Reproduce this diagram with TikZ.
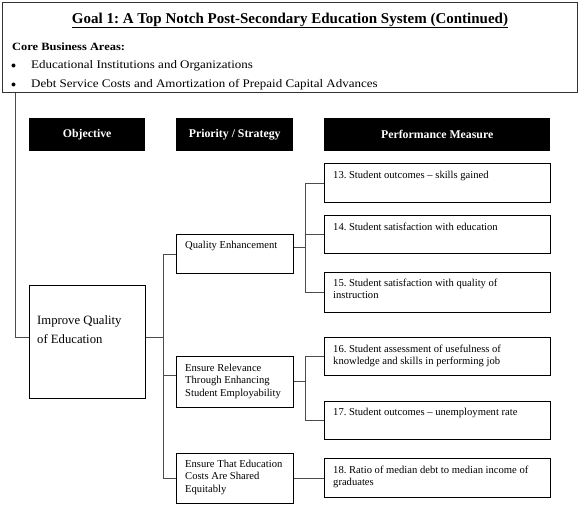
\documentclass[tikz,border=0pt]{standalone}
\usepackage{fontspec}
\setmainfont{Liberation Serif}
\newfontfamily\widefont[FakeStretch=1.12]{Liberation Serif}
\frenchspacing
\begin{document}
\begin{tikzpicture}[x=1pt,y=-1pt,
 box/.style={draw=black, line width=1.1pt, anchor=north west, inner sep=0pt},
 hdr/.style={fill=black, anchor=north west, inner sep=0pt},
 hdrtxt/.style={text=white, inner sep=0pt, font=\bfseries\fontsize{11.8}{13}\selectfont},
 txt/.style={anchor=north west, inner sep=0pt, align=left, font=\fontsize{10.6}{12.5}\selectfont},
 top/.style={inner sep=0pt, font=\widefont\fontsize{11.6}{13}\selectfont},
 conn/.style={draw=black!70, line width=1pt}]
\useasboundingbox (0,0) rectangle (580,509);
% top box
\node[box, draw=black!80, minimum width=575, minimum height=90] (goal) at (2,2) {};
\node[anchor=base, inner sep=0pt, font=\bfseries\fontsize{15}{17}\selectfont] (title) at (290,23) {\underline{Goal 1: A Top Notch Post-Secondary Education System (Continued)}};
\node[top, anchor=base west, font=\widefont\bfseries\fontsize{11.1}{13}\selectfont] (core) at (12,50) {Core Business Areas:};
\node[top, anchor=base, font=\fontsize{10}{12}\selectfont] (b1) at (13.5,68) {$\bullet$};
\node[top, anchor=base west] (a1) at (31,68) {Educational Institutions and Organizations};
\node[top, anchor=base, font=\fontsize{10}{12}\selectfont] (b2) at (13.5,87) {$\bullet$};
\node[top, anchor=base west] (a2) at (31,87) {Debt Service Costs and Amortization of Prepaid Capital Advances};
% headers
\node[hdr, minimum width=116, minimum height=33] (hobj) at (29,118) {};
\node[hdrtxt] (hobjt) at (hobj.center) {Objective};
\node[hdr, minimum width=117, minimum height=33] (hpri) at (176,118) {};
\node[hdrtxt] (hprit) at (hpri.center) {Priority / Strategy};
\node[hdr, minimum width=226, minimum height=33] (hperf) at (324,118) {};
\node[hdrtxt] (hperft) at (hperf.center) {Performance Measure};
% objective
\node[box, minimum width=116, minimum height=113] (imp) at (29,285) {};
\node[txt, font=\fontsize{12.7}{19}\selectfont] (impt) at ([shift={(8,30)}]imp.north west) {Improve Quality\\of Education};
% strategies
\node[box, minimum width=117, minimum height=39] (qe) at (176,234) {};
\node[txt] (qet) at ([shift={(9,7)}]qe.north west) {Quality Enhancement};
\node[box, minimum width=117, minimum height=51] (er) at (176,356) {};
\node[txt] (ert) at ([shift={(9,7.5)}]er.north west) {Ensure Relevance\\Through Enhancing\\Student Employability};
\node[box, minimum width=117, minimum height=50] (et) at (176,453) {};
\node[txt] (ett) at ([shift={(9,6.5)}]et.north west) {Ensure That Education\\Costs Are Shared\\Equitably};
% measures
\node[box, minimum width=226, minimum height=39] (m13) at (324,163) {};
\node[txt] (t13) at ([shift={(9,7.5)}]m13.north west) {13. Student outcomes -- skills gained};
\node[box, minimum width=226, minimum height=38] (m14) at (324,215) {};
\node[txt] (t14) at ([shift={(9,7.5)}]m14.north west) {14. Student satisfaction with education};
\node[box, minimum width=226, minimum height=40] (m15) at (324,272) {};
\node[txt] (t15) at ([shift={(9,6.5)}]m15.north west) {15. Student satisfaction with quality of\\instruction};
\node[box, minimum width=226, minimum height=38] (m16) at (324,337) {};
\node[txt] (t16) at ([shift={(9,7.5)}]m16.north west) {16. Student assessment of usefulness of\\knowledge and skills in performing job};
\node[box, minimum width=226, minimum height=38] (m17) at (324,401) {};
\node[txt] (t17) at ([shift={(9,6.5)}]m17.north west) {17. Student outcomes -- unemployment rate};
\node[box, minimum width=226, minimum height=39] (m18) at (324,458) {};
\node[txt] (t18) at ([shift={(9,7.5)}]m18.north west) {18. Ratio of median debt to median income of\\graduates};
% connectors
\coordinate (lc) at (15,337);
\draw[conn] (goal.south -| lc) -- (lc) -- (lc -| imp.west);
\coordinate (j1) at (163,337);
\draw[conn] (imp.east |- j1) -- (j1);
\draw[conn] (j1 |- qe.west) -- (j1 |- et.west);
\draw[conn] (j1 |- qe.west) -- (qe.west);
\draw[conn] (j1 |- 0,375) -- (er.west |- 0,375);
\draw[conn] (j1 |- et.west) -- (et.west);
\coordinate (j2) at (305,247);
\draw[conn] (qe.east |- j2) -- (j2);
\draw[conn] (j2 |- m13.west) -- (j2 |- m15.west);
\draw[conn] (j2 |- m13.west) -- (m13.west);
\draw[conn] (j2 |- m14.west) -- (m14.west);
\draw[conn] (j2 |- m15.west) -- (m15.west);
\coordinate (j3) at (305,381);
\draw[conn] (er.east |- j3) -- (j3);
\draw[conn] (j3 |- m16.west) -- (j3 |- m17.west);
\draw[conn] (j3 |- m16.west) -- (m16.west);
\draw[conn] (j3 |- m17.west) -- (m17.west);
\draw[conn] (et.east) -- (m18.west |- et.east);
\end{tikzpicture}
\end{document}
